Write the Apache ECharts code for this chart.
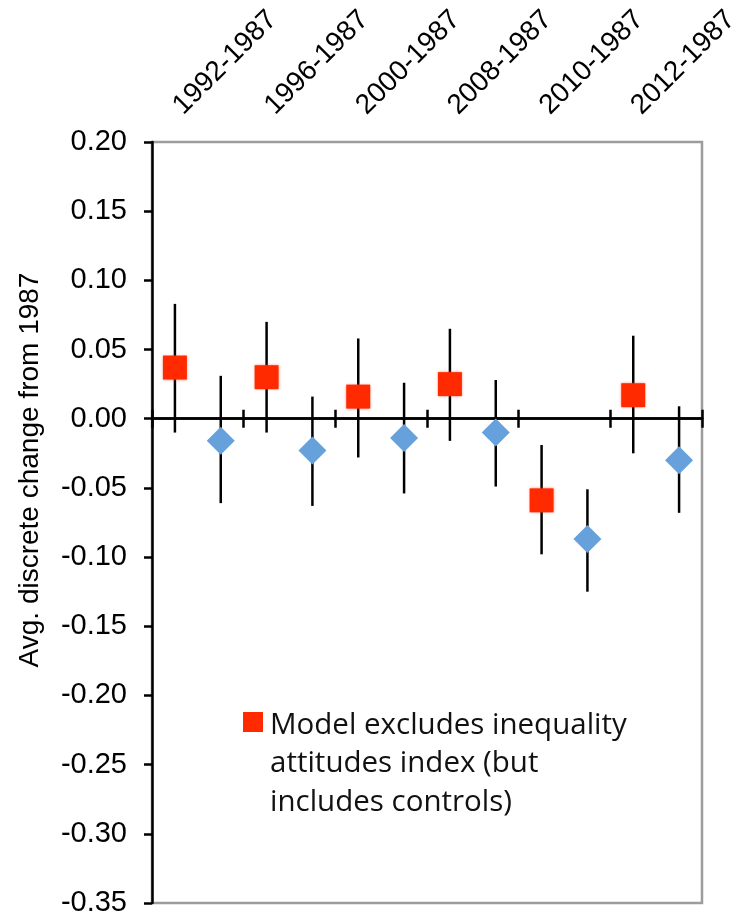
<!DOCTYPE html>
<html>
<head>
<meta charset="utf-8">
<script src="https://cdn.jsdelivr.net/npm/echarts@6.0.0/dist/echarts.min.js"></script>
<style>
  html, body { margin: 0; padding: 0; background: #fff; }
  .main { width: 740px; height: 919px; }
</style>
</head>
<body>
<div class="main"></div>
<script>
// data
const categories = ['1992-1987', '1996-1987', '2000-1987', '2008-1987', '2010-1987', '2012-1987'];
// model without the inequality attitudes index (red squares)
const redValues = [0.037, 0.030, 0.016, 0.025, -0.059, 0.017];
const redLow = [-0.010, -0.010, -0.028, -0.016, -0.098, -0.025];
const redHigh = [0.083, 0.070, 0.058, 0.065, -0.019, 0.060];
// full model (blue diamonds)
const blueValues = [-0.016, -0.023, -0.014, -0.010, -0.087, -0.030];
const blueLow = [-0.061, -0.063, -0.054, -0.049, -0.125, -0.068];
const blueHigh = [0.031, 0.016, 0.026, 0.028, -0.051, 0.009];

const redName = 'Model excludes inequality attitudes index (but includes controls)';
const blueName = 'Model includes inequality attitudes index';

(function () {

  // 1. init
  let myChart = echarts.init(document.querySelector('.main'));

  const red = '#FF2A00';
  const blue = '#66A1DC';
  const font = 'Liberation Sans, Arial, sans-serif';

  // red sits in the left quarter of each period, blue in the right quarter
  let redPoints = redValues.map((v, i) => [i + 0.25, v]);
  let bluePoints = blueValues.map((v, i) => [i + 0.75, v]);
  let redBars = redLow.map((v, i) => [i + 0.25, v, redHigh[i]]);
  let blueBars = blueLow.map((v, i) => [i + 0.75, v, blueHigh[i]]);

  function errorBar(params, api) {
    let x = api.value(0);
    let a = api.coord([x, api.value(2)]);
    let b = api.coord([x, api.value(1)]);
    return {
      type: 'line',
      shape: { x1: a[0], y1: a[1], x2: b[0], y2: b[1] },
      style: { stroke: '#000', lineWidth: 2.5 }
    };
  }

  const tickStyle = { color: '#000', width: 2.5 };

  // 2. option
  let option = {
    animation: false,
    grid: [
      {
        left: 152, top: 142, width: 550, height: 761, outerBoundsMode: 'none',
        show: true, borderColor: '#9c9c9c', borderWidth: 2.5
      },
      // helper grid: carries the period labels and the y title
      { left: 132, top: 142, width: 550, height: 656, outerBoundsMode: 'none' }
    ],
    xAxis: [
      {
        type: 'value', gridIndex: 0, min: 0, max: 6, interval: 1, position: 'bottom',
        axisLine: { onZero: true, onZeroAxisIndex: 0, lineStyle: tickStyle },
        axisTick: { show: true, length: 9, lineStyle: tickStyle },
        axisLabel: { show: false },
        splitLine: { show: false }
      },
      {
        // same zero line, ticks pointing up
        type: 'value', gridIndex: 0, min: 0, max: 6, interval: 1, position: 'top',
        axisLine: { onZero: true, onZeroAxisIndex: 0, lineStyle: tickStyle },
        axisTick: { show: true, length: 9, lineStyle: tickStyle },
        axisLabel: { show: false },
        splitLine: { show: false }
      },
      {
        type: 'category', gridIndex: 1, position: 'top', data: categories, boundaryGap: true,
        axisLine: { show: false },
        axisTick: { show: false },
        axisLabel: { rotate: 45, interval: 0, margin: 32, fontSize: 28, color: '#000', fontFamily: font }
      }
    ],
    yAxis: [
      {
        type: 'value', gridIndex: 0, min: -0.35, max: 0.2, interval: 0.05,
        axisLine: { show: true, lineStyle: tickStyle },
        axisTick: { show: true, length: 8, lineStyle: tickStyle },
        axisLabel: {
          margin: 25, fontSize: 29, color: '#000', fontFamily: font,
          formatter: v => v.toFixed(2)
        },
        splitLine: { show: false }
      },
      {
        type: 'value', gridIndex: 1, min: 0, max: 1,
        name: 'Avg. discrete change from 1987',
        nameLocation: 'middle',
        nameGap: 88,
        nameTextStyle: { fontSize: 28, color: '#000', fontFamily: font },
        axisLine: { show: false },
        axisTick: { show: false },
        axisLabel: { show: false },
        splitLine: { show: false }
      }
    ],
    graphic: [
      { type: 'rect', left: 243, top: 712, shape: { width: 20, height: 20 }, style: { fill: red } },
      {
        type: 'text', left: 270, top: 706,
        style: {
          text: 'Model excludes inequality\nattitudes index (but\nincludes controls)',
          font: '29.5px "Open Sans"', lineHeight: 38.5, fill: '#111'
        }
      }
    ],
    series: [
      {
        name: redName + ' bars', type: 'custom', xAxisIndex: 0, yAxisIndex: 0,
        renderItem: errorBar, encode: { x: 0, y: [1, 2] }, data: redBars, z: 2
      },
      {
        name: blueName + ' bars', type: 'custom', xAxisIndex: 0, yAxisIndex: 0,
        renderItem: errorBar, encode: { x: 0, y: [1, 2] }, data: blueBars, z: 2
      },
      {
        name: redName, type: 'scatter', xAxisIndex: 0, yAxisIndex: 0,
        symbol: 'rect', symbolSize: 24, data: redPoints, z: 3,
        itemStyle: { color: red, opacity: 1, shadowBlur: 3, shadowColor: 'rgba(255,80,60,0.8)' }
      },
      {
        name: blueName, type: 'scatter', xAxisIndex: 0, yAxisIndex: 0,
        symbol: 'diamond', symbolSize: 28, data: bluePoints, z: 3,
        itemStyle: { color: blue, opacity: 1 }
      }
    ]
  };

  // 3. apply
  myChart.setOption(option);
  // 4. resize
  window.addEventListener('resize', function () {
    myChart.resize();
  });

})();
</script>
</body>
</html>
